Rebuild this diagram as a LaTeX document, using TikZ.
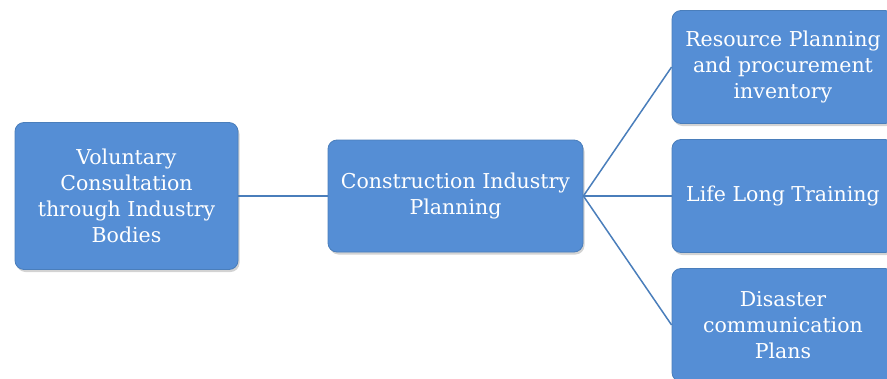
\documentclass[tikz,border=0pt]{standalone}
\usepackage{fontspec}
\setmainfont{DejaVu Serif}
\usetikzlibrary{shadows}
\definecolor{boxfill}{HTML}{558ED5}
\definecolor{boxedge}{HTML}{4A7EBB}
\definecolor{linkline}{HTML}{4A7EBB}
\tikzset{
    blue-box/.style = {draw=boxedge, fill=boxfill, line width=0.8pt, rectangle, rounded corners=9pt, text=white, align=center, inner sep=0pt,
        font=\fontsize{20.5}{26}\selectfont, drop shadow={opacity=0.35, shadow xshift=1.5pt, shadow yshift=-2.5pt}},
    link-line/.style = {draw=linkline, line width=1.5pt},
}
\begin{document}
\begin{tikzpicture}[x=1pt, y=-1pt]
\useasboundingbox (0,0) rectangle (887,378);
\node [blue-box, minimum width=223pt, minimum height=147pt] (consult) at (126.5,196)
    {Voluntary\\Consultation\\through Industry\\Bodies};
\node [blue-box, minimum width=255pt, minimum height=112pt] (planning) at (455.5,196)
    {Construction Industry\\Planning};
\node [blue-box, minimum width=222pt, minimum height=113pt] (resource) at (783,67)
    {Resource Planning\\and procurement\\inventory};
\node [blue-box, minimum width=222pt, minimum height=113pt] (training) at (783,196)
    {Life Long Training};
\node [blue-box, minimum width=222pt, minimum height=113pt] (disaster) at (783,325)
    {Disaster\\communication\\Plans};
\draw [link-line] (consult.east) -- (planning.west);
\draw [link-line] (planning.east) -- (resource.west);
\draw [link-line] (planning.east) -- (training.west);
\draw [link-line] (planning.east) -- (disaster.west);
\end{tikzpicture}
\end{document}
